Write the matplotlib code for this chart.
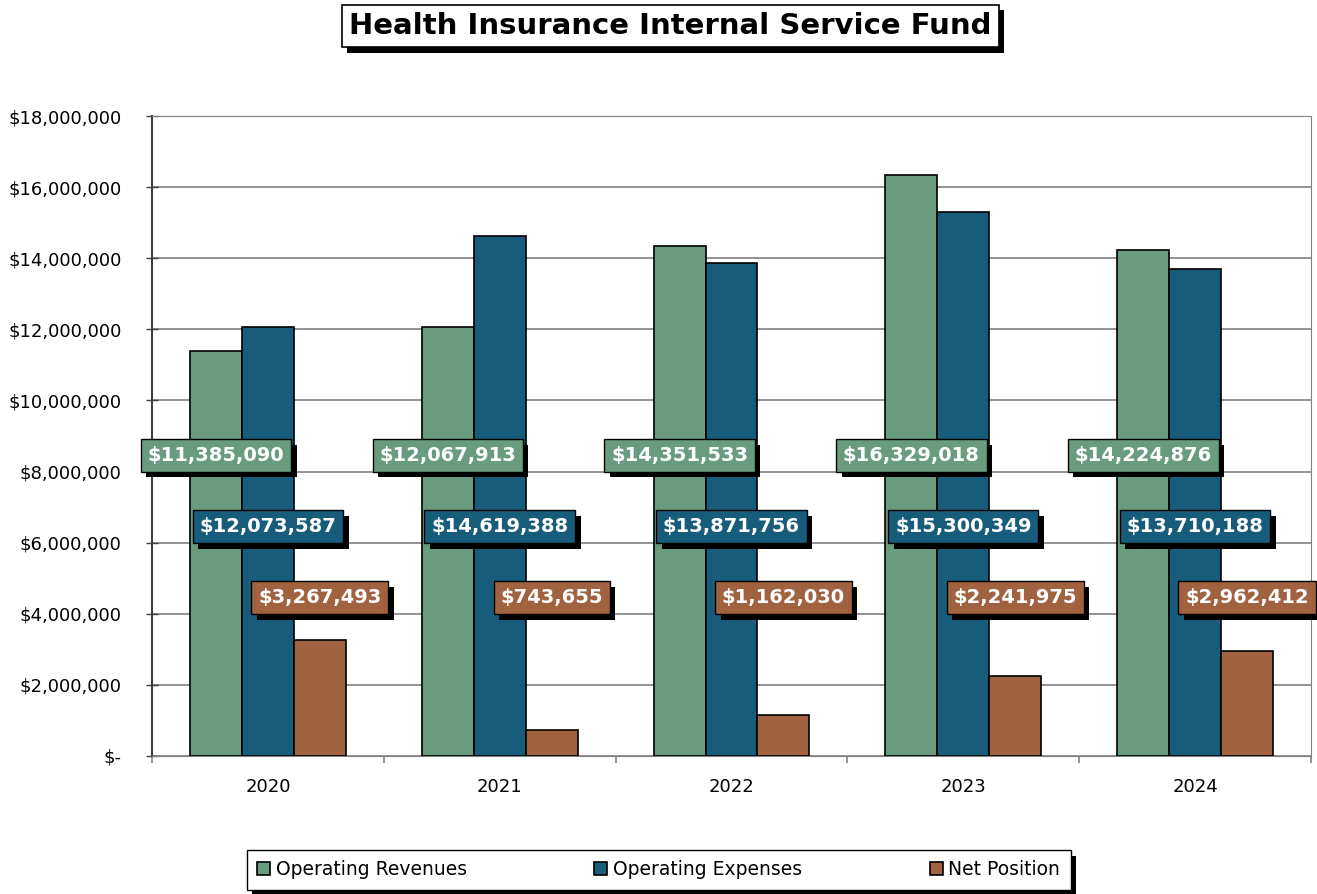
import matplotlib.pyplot as plt
import matplotlib.patheffects as pe
from matplotlib.ticker import FuncFormatter, MultipleLocator
import numpy as np

years = ["2020", "2021", "2022", "2023", "2024"]
revenues = [11385090, 12067913, 14351533, 16329018, 14224876]
expenses = [12073587, 14619388, 13871756, 15300349, 13710188]
net_position = [3267493, 743655, 1162030, 2241975, 2962412]

series_names = ["Operating Revenues", "Operating Expenses", "Net Position"]
colors = ["#699b7f", "#185c7b", "#a0623f"]
label_y = [8.45e6, 6.45e6, 4.45e6]

plt.rcParams['font.family'] = ['DejaVu Sans']

fig = plt.figure(figsize=(13.17, 8.94), dpi=100)
ax = fig.add_axes([0.1154, 0.1544, 0.88, 0.7158])

x = np.arange(len(years))
width = 0.224
shadow = [pe.SimplePatchShadow(offset=(4, -4), shadow_rgbFace='black', alpha=1.0), pe.Normal()]

for i, (vals, name, c) in enumerate(zip([revenues, expenses, net_position], series_names, colors)):
    xs = x + (i - 1) * width
    ax.bar(xs, vals, width, color=c, edgecolor='black', linewidth=1.2, label=name, zorder=3)
    for xi, v in zip(xs, vals):
        t = ax.text(xi, label_y[i], f"${v:,.0f}", ha='center', va='center', color='white',
                    fontsize=14, fontweight='bold', zorder=5,
                    bbox=dict(boxstyle='square,pad=0.35', fc=c, ec='black', lw=1))
        t.get_bbox_patch().set_path_effects(shadow)

ax.set_ylim(0, 18e6)
ax.set_xlim(-0.5, 4.5)
ax.yaxis.set_major_locator(MultipleLocator(2e6))
ax.yaxis.set_major_formatter(FuncFormatter(lambda v, p: "$-" if v == 0 else f"${v:,.0f}"))
ax.grid(axis='y', color='#808080', linewidth=1.2, zorder=0)
ax.tick_params(axis='y', labelsize=13, length=8, width=1, direction='inout', color='#404040', pad=18)

ax.set_xticks(x)
ax.set_xticklabels(years)
ax.set_xticks(np.arange(-0.5, 5, 1), minor=True)
ax.tick_params(axis='x', which='major', length=0, labelsize=13, pad=16)
ax.tick_params(axis='x', which='minor', length=5, width=1.2, color='#808080')

for s in ['top', 'right']:
    ax.spines[s].set_color('#808080')
ax.spines['left'].set_color('#404040')
ax.spines['bottom'].set_color('#808080')
ax.spines['left'].set_linewidth(1.5)

title = fig.text(0.509, 0.971, "Health Insurance Internal Service Fund", ha='center', va='center',
                 fontsize=21, fontweight='bold',
                 bbox=dict(boxstyle='square,pad=0.25', fc='white', ec='black', lw=1.2))
title.get_bbox_patch().set_path_effects(shadow)

leg = fig.legend(loc='center', bbox_to_anchor=(0.5, 0.027), ncol=3, fontsize=13.5,
                 frameon=True, fancybox=False, edgecolor='black', framealpha=1,
                 handlelength=0.7, handleheight=0.7, handletextpad=0.3, columnspacing=6.8,
                 borderpad=0.55, borderaxespad=0)
leg.get_frame().set_linewidth(1.0)
leg.get_frame().set_path_effects(shadow)

fig.savefig("out.png", dpi=100)
